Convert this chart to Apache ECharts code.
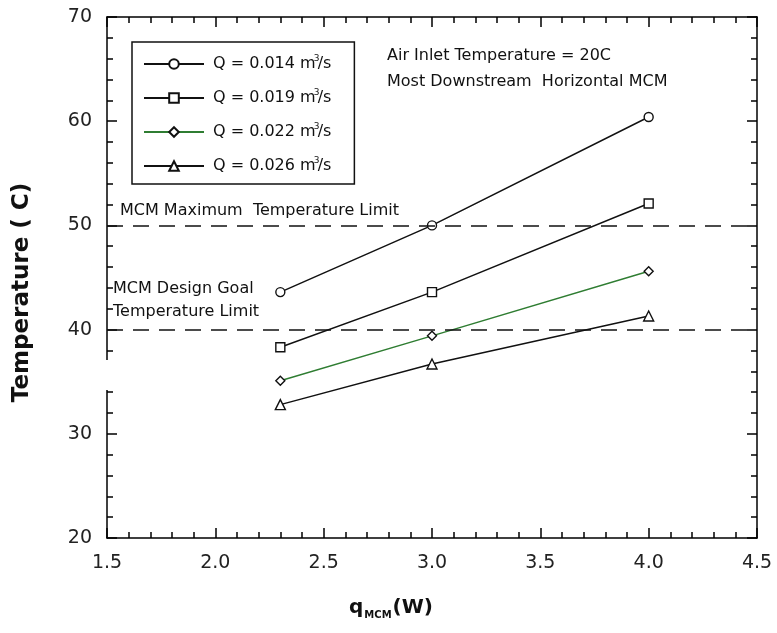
<!DOCTYPE html>
<html>
<head>
<meta charset="utf-8">
<script src="https://cdn.jsdelivr.net/npm/echarts@6/dist/echarts.min.js"></script>
<style>
  html, body { margin: 0; padding: 0; background: #fff; }
  #chart { width: 777px; height: 633px; }
</style>
</head>
<body>
<div id="chart"></div>
<script>
// 数据
var qValues = [2.3, 3.0, 4.0]
var seriesNames = ['Q = 0.014', 'Q = 0.019', 'Q = 0.022', 'Q = 0.026']
var t014 = [43.6, 50.0, 60.4]
var t019 = [38.3, 43.6, 52.1]
var t022 = [35.1, 39.4, 45.6]
var t026 = [32.8, 36.7, 41.3]
var limitMax = 50
var limitGoal = 40
var xTicks = [1.5, 2.0, 2.5, 3.0, 3.5, 4.0, 4.5]
var yTicks = [20, 30, 40, 50, 60, 70]

var font = 'DejaVu Sans, Verdana, sans-serif'
var chart = echarts.init(document.getElementById('chart'))

function pairs (ys) {
  return qValues.map(function (x, i) { return [x, ys[i]] })
}

function axisCommon (show) {
  return {
    axisLine: { show: true, onZero: false, lineStyle: { color: '#000', width: 1.5 } },
    axisTick: { show: true, inside: true, length: 10, lineStyle: { color: '#000', width: 1.5 } },
    minorTick: { show: true, splitNumber: 5, length: 6, lineStyle: { color: '#000', width: 1.5 } },
    splitLine: { show: false },
    axisLabel: { show: show }
  }
}

var xBottom = Object.assign(axisCommon(true), {
  type: 'value', position: 'bottom',
  min: xTicks[0], max: xTicks[xTicks.length - 1], interval: 0.5,
  name: '{q|q}{s|MCM}{q|(W)}', nameLocation: 'middle', nameGap: 58,
  nameTextStyle: {
    padding: [0, 82, 0, 0],
    rich: {
      q: { fontFamily: font, fontWeight: 'bold', fontSize: 20, color: '#111' },
      s: { fontFamily: font, fontWeight: 'bold', fontSize: 10, color: '#111', verticalAlign: 'bottom', padding: [14, 1, 0, 1] }
    }
  }
})
xBottom.axisLabel = { show: true, margin: 16, fontFamily: font, fontSize: 19, color: '#222', formatter: function (v) { return v.toFixed(1) } }
var xTop = Object.assign(axisCommon(false), {
  type: 'value', position: 'top', min: 1.5, max: 4.5, interval: 0.5
})

var yLeft = Object.assign(axisCommon(true), {
  type: 'value', position: 'left',
  min: yTicks[0], max: yTicks[yTicks.length - 1], interval: 10,
  name: 'Temperature ( C)', nameLocation: 'middle', nameGap: 73,
  nameTextStyle: { fontFamily: font, fontWeight: 'bold', fontSize: 23, color: '#111', padding: [0, 30, 0, 0] }
})
yLeft.axisLabel = { show: true, margin: 15, fontFamily: font, fontSize: 19, color: '#222' }
var yRight = Object.assign(axisCommon(false), {
  type: 'value', position: 'right', min: 20, max: 70, interval: 10
})

function lineSeries (name, data, symbol, size, color) {
  return {
    name: name, type: 'line', data: pairs(data),
    symbol: symbol, symbolSize: size,
    itemStyle: { color: '#fff', borderColor: '#111', borderWidth: 1.4 },
    lineStyle: { color: color, width: 1.5 },
    emphasis: { disabled: true },
    z: 3
  }
}

var series = [
  lineSeries(seriesNames[0], t014, 'circle', 9, '#111'),
  lineSeries(seriesNames[1], t019, 'rect', 9, '#111'),
  lineSeries(seriesNames[2], t022, 'diamond', 9, '#2f7d32'),
  lineSeries(seriesNames[3], t026, 'triangle', 10, '#111')
]
// 参考线
series[0].markLine = {
  silent: true, symbol: 'none', label: { show: false },
  lineStyle: { color: '#111', type: [16, 10], width: 1.5 },
  data: [{ yAxis: limitMax }, { yAxis: limitGoal }]
}

var txt = { fontFamily: font, fontSize: 16, fill: '#111' }

chart.setOption({
  animation: false,
  grid: { left: 107, right: 20, top: 17, bottom: 95 },
  xAxis: [xBottom, xTop],
  yAxis: [yLeft, yRight],
  legend: {
    orient: 'vertical', left: 132, top: 42,
    padding: [12, 23, 8, 11],
    borderColor: '#111', borderWidth: 1.5,
    itemWidth: 60, itemHeight: 12, itemGap: 14,
    data: seriesNames,
    formatter: function (name) { return name + ' m{sup|3}/s' },
    textStyle: {
      fontFamily: font, fontSize: 16, color: '#111', padding: [0, 0, 0, 4], lineHeight: 16,
      rich: { sup: { fontFamily: font, fontSize: 9, color: '#111', width: 2, align: 'right', lineHeight: 16, padding: [0, 0, 11, 0] } }
    }
  },
  graphic: [
    // y 轴上的断口
    { type: 'rect', shape: { x: 100, y: 360, width: 20, height: 30 }, style: { fill: '#fff' }, z: 100 },
    { type: 'text', left: 387, top: 48, style: Object.assign({ text: 'Air Inlet Temperature = 20C' }, txt) },
    { type: 'text', left: 387, top: 74, style: Object.assign({ text: 'Most Downstream  Horizontal MCM' }, txt) },
    { type: 'text', left: 120, top: 203, style: Object.assign({ text: 'MCM Maximum  Temperature Limit' }, txt) },
    { type: 'text', left: 113, top: 281, style: Object.assign({ text: 'MCM Design Goal' }, txt) },
    { type: 'text', left: 113, top: 304, style: Object.assign({ text: 'Temperature Limit' }, txt) }
  ],
  series: series
})
</script>
</body>
</html>
